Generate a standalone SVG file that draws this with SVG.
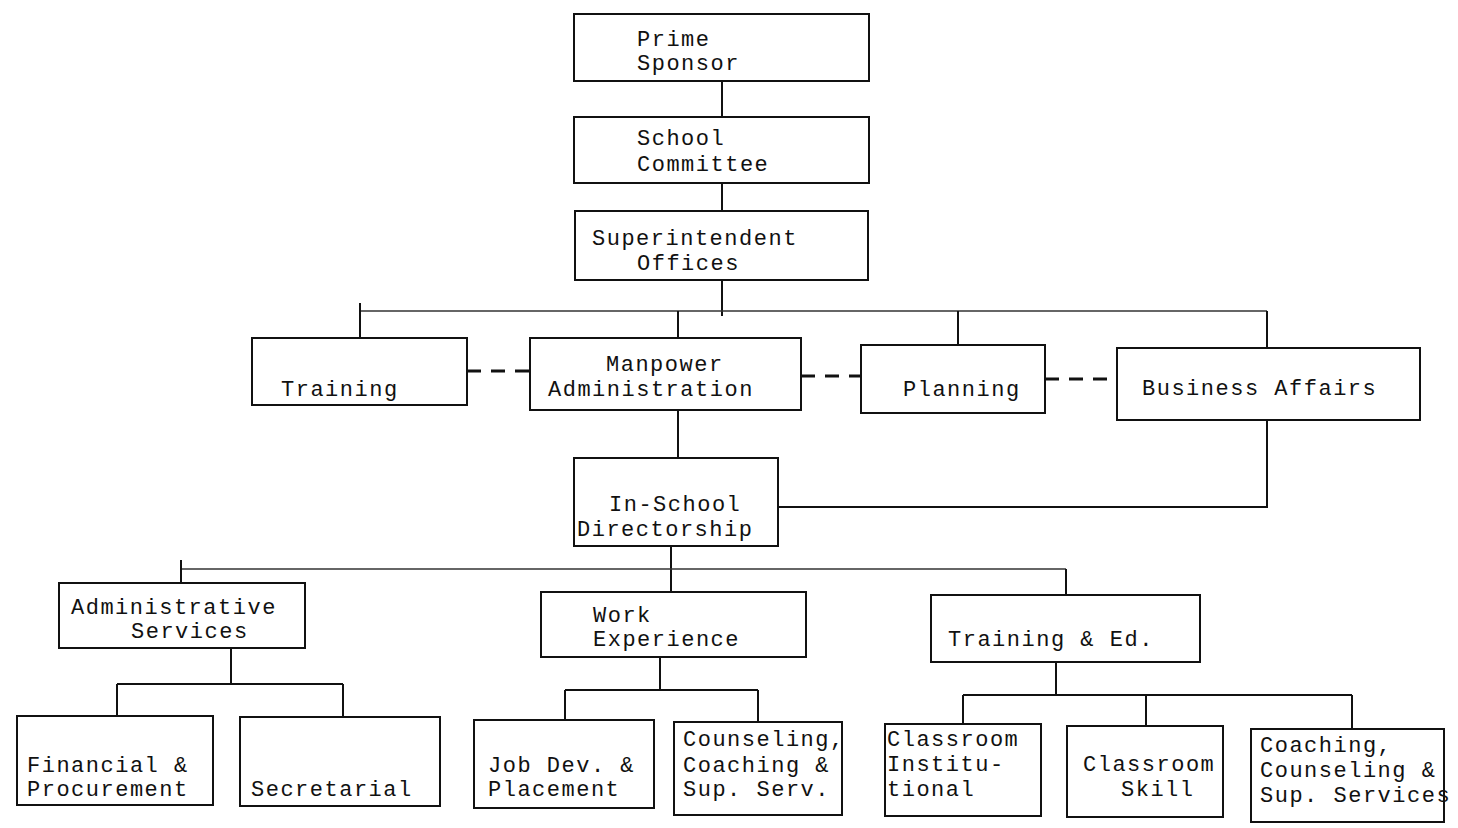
<svg xmlns="http://www.w3.org/2000/svg" width="1458" height="828" viewBox="0 0 1458 828">
<style>
.box{fill:none;stroke:#111;stroke-width:2}
.ln{fill:none;stroke:#111;stroke-width:2}
.faint{fill:none;stroke:#333;stroke-width:1.3}
.dash{fill:none;stroke:#111;stroke-width:3;stroke-dasharray:14 10}
text{font-family:"Liberation Mono","DejaVu Sans Mono",monospace;font-size:22px;letter-spacing:1.5px;fill:#111}
</style>
<rect width="1458" height="828" fill="#fff"/>
<g id="connectors">
<path class="ln" d="M722 81V117M722 183V211M722 280V316"/>
<path class="faint" d="M360 311H1267"/>
<path class="ln" d="M360 303V338M678 311V338M958 311V345M1267 311V348"/>
<path class="dash" d="M467 371H530M801 376H861M1045 379H1117"/>
<path class="ln" d="M678 410V458M1267 420V507H778"/>
<path class="ln" d="M671 546V592"/>
<path class="faint" d="M181 569H1066"/>
<path class="ln" d="M181 560V583M1066 569V595"/>
<path class="ln" d="M231 648V684M117 684H343M117 684V716M343 684V717"/>
<path class="ln" d="M660 657V690M565 690H758M565 690V720M758 690V722"/>
<path class="ln" d="M1056 662V695M963 695H1352M963 695V724M1146 695V726M1352 695V729"/>
</g>
<g id="prime-sponsor"><rect class="box" x="574" y="14" width="295" height="67"/><text x="637" y="46">Prime</text><text x="637" y="70">Sponsor</text></g>
<g id="school-committee"><rect class="box" x="574" y="117" width="295" height="66"/><text x="637" y="145">School</text><text x="637" y="171">Committee</text></g>
<g id="superintendent"><rect class="box" x="575" y="211" width="293" height="69"/><text x="592" y="245">Superintendent</text><text x="637" y="270">Offices</text></g>
<g id="training"><rect class="box" x="252" y="338" width="215" height="67"/><text x="281" y="396">Training</text></g>
<g id="manpower"><rect class="box" x="530" y="338" width="271" height="72"/><text x="606" y="371">Manpower</text><text x="548" y="396">Administration</text></g>
<g id="planning"><rect class="box" x="861" y="345" width="184" height="68"/><text x="903" y="396">Planning</text></g>
<g id="business-affairs"><rect class="box" x="1117" y="348" width="303" height="72"/><text x="1142" y="395">Business Affairs</text></g>
<g id="in-school"><rect class="box" x="574" y="458" width="204" height="88"/><text x="609" y="511">In-School</text><text x="577" y="536">Directorship</text></g>
<g id="admin-services"><rect class="box" x="59" y="583" width="246" height="65"/><text x="71" y="614">Administrative</text><text x="131" y="638">Services</text></g>
<g id="work-experience"><rect class="box" x="541" y="592" width="265" height="65"/><text x="593" y="622">Work</text><text x="593" y="646">Experience</text></g>
<g id="training-ed"><rect class="box" x="931" y="595" width="269" height="67"/><text x="948" y="646">Training &amp; Ed.</text></g>
<g id="financial"><rect class="box" x="17" y="716" width="196" height="89"/><text x="27" y="772">Financial &amp;</text><text x="27" y="796">Procurement</text></g>
<g id="secretarial"><rect class="box" x="240" y="717" width="200" height="89"/><text x="251" y="796">Secretarial</text></g>
<g id="job-dev"><rect class="box" x="474" y="720" width="180" height="88"/><text x="488" y="772">Job Dev. &amp;</text><text x="488" y="796">Placement</text></g>
<g id="counseling-ws"><rect class="box" x="674" y="722" width="168" height="93"/><text x="683" y="746">Counseling,</text><text x="683" y="772">Coaching &amp;</text><text x="683" y="796">Sup. Serv.</text></g>
<g id="classroom-inst"><rect class="box" x="885" y="724" width="156" height="92"/><text x="887" y="746">Classroom</text><text x="887" y="771">Institu-</text><text x="887" y="796">tional</text></g>
<g id="classroom-skill"><rect class="box" x="1067" y="726" width="156" height="91"/><text x="1083" y="771">Classroom</text><text x="1121" y="796">Skill</text></g>
<g id="coaching-te"><rect class="box" x="1251" y="729" width="193" height="93"/><text x="1260" y="752">Coaching,</text><text x="1260" y="777">Counseling &amp;</text><text x="1260" y="802">Sup. Services</text></g>
</svg>
